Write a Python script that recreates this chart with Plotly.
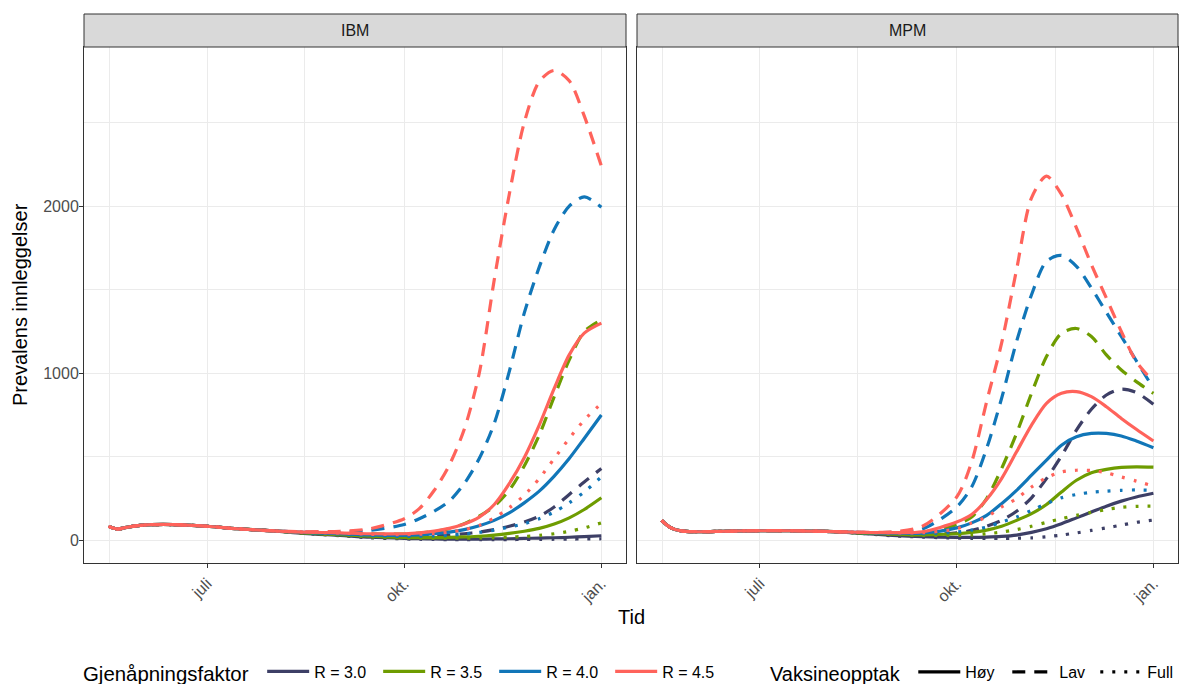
import plotly.graph_objects as go

# ---------------- data ----------------
dates = ["2021-05-16", "2021-05-20", "2021-05-25", "2021-06-01", "2021-06-15",
         "2021-07-01", "2021-07-15", "2021-08-01", "2021-08-15", "2021-09-01",
         "2021-09-15", "2021-10-01", "2021-10-08", "2021-10-15", "2021-10-22",
         "2021-10-29", "2021-11-05", "2021-11-12", "2021-11-19", "2021-11-26",
         "2021-12-03", "2021-12-10", "2021-12-17", "2021-12-24", "2022-01-01"]

models = ["IBM", "MPM"]
r_levels = ["R = 3.0", "R = 3.5", "R = 4.0", "R = 4.5"]
vacc_levels = ["Høy", "Lav", "Full"]

# IBM
ibm_r30_hoy = [84, 68, 80, 92, 95, 85, 70, 57, 42, 30, 19, 12, 10, 9, 8, 8, 8, 9, 10, 12, 14, 16, 19, 23, 28]
ibm_r30_lav = [84, 68, 80, 92, 95, 85, 70, 57, 45, 34, 27, 22, 24, 27, 32, 40, 50, 65, 85, 110, 145, 200, 275, 350, 430]
ibm_r30_full = [84, 68, 80, 92, 95, 85, 70, 57, 42, 28, 16, 9, 7, 6, 5, 5, 5, 5, 5, 6, 6, 7, 8, 9, 10]
ibm_r35_hoy = [84, 68, 80, 92, 95, 85, 70, 57, 45, 34, 25, 18, 17, 17, 18, 21, 25, 32, 42, 55, 72, 98, 135, 185, 255]
ibm_r35_lav = [84, 68, 80, 92, 95, 85, 70, 57, 47, 42, 40, 38, 44, 54, 70, 100, 145, 205, 300, 445, 630, 860, 1080, 1250, 1320]
ibm_r35_full = [84, 68, 80, 92, 95, 85, 70, 57, 45, 32, 21, 14, 13, 13, 13, 14, 15, 17, 20, 24, 30, 40, 55, 75, 105]
ibm_r40_hoy = [84, 68, 80, 92, 95, 85, 70, 57, 48, 40, 33, 30, 33, 40, 50, 65, 88, 120, 165, 225, 295, 385, 490, 610, 750]
ibm_r40_lav = [84, 68, 80, 92, 95, 85, 70, 57, 50, 50, 60, 95, 130, 175, 235, 340, 490, 700, 1010, 1360, 1635, 1860, 2000, 2055, 1994]
ibm_r40_full = [84, 68, 80, 92, 95, 85, 70, 57, 48, 38, 29, 24, 25, 27, 31, 38, 48, 62, 80, 100, 130, 170, 225, 290, 380]
ibm_r45_hoy = [84, 68, 80, 92, 95, 85, 70, 57, 50, 45, 40, 40, 45, 56, 72, 98, 140, 215, 340, 495, 690, 910, 1110, 1240, 1300]
ibm_r45_lav = [84, 68, 80, 92, 95, 85, 70, 57, 52, 55, 70, 130, 190, 300, 450, 665, 1000, 1560, 2070, 2500, 2745, 2812, 2750, 2540, 2240]
ibm_r45_full = [84, 68, 80, 92, 95, 85, 70, 57, 50, 44, 37, 35, 37, 42, 50, 65, 90, 135, 195, 270, 370, 490, 610, 720, 820]

# MPM
mpm_r30_hoy = [120, 78, 57, 52, 55, 58, 58, 54, 44, 30, 22, 18, 18, 20, 24, 32, 48, 70, 100, 135, 170, 205, 235, 260, 282]
mpm_r30_lav = [120, 78, 57, 52, 55, 58, 58, 54, 45, 35, 32, 45, 60, 85, 120, 175, 255, 370, 505, 660, 785, 870, 905, 885, 815]
mpm_r30_full = [120, 78, 57, 52, 55, 58, 58, 54, 44, 28, 20, 14, 12, 12, 12, 13, 15, 22, 32, 45, 60, 75, 92, 108, 122]
mpm_r35_hoy = [120, 78, 57, 52, 55, 58, 58, 54, 46, 38, 33, 40, 48, 62, 85, 120, 160, 215, 290, 360, 405, 425, 437, 440, 438]
mpm_r35_lav = [120, 78, 57, 52, 55, 58, 58, 54, 47, 42, 48, 95, 140, 250, 430, 640, 880, 1100, 1240, 1268, 1220, 1110, 1020, 950, 880]
mpm_r35_full = [120, 78, 57, 52, 55, 58, 58, 54, 46, 36, 30, 30, 33, 40, 50, 65, 85, 108, 130, 150, 168, 185, 198, 204, 205]
mpm_r40_hoy = [120, 78, 57, 52, 55, 58, 58, 54, 48, 44, 44, 75, 105, 150, 220, 300, 390, 480, 570, 620, 640, 640, 625, 595, 555]
mpm_r40_lav = [120, 78, 57, 52, 55, 58, 58, 54, 49, 48, 68, 200, 320, 550, 850, 1190, 1470, 1670, 1705, 1640, 1510, 1365, 1220, 1075, 910]
mpm_r40_full = [120, 78, 57, 52, 55, 58, 58, 54, 48, 42, 40, 50, 62, 80, 110, 140, 180, 220, 255, 275, 288, 295, 300, 302, 300]
mpm_r45_hoy = [120, 78, 57, 52, 55, 58, 58, 54, 49, 47, 52, 110, 155, 245, 370, 530, 690, 820, 880, 890, 860, 800, 730, 665, 595]
mpm_r45_lav = [120, 78, 57, 52, 55, 58, 58, 54, 50, 52, 85, 260, 470, 830, 1180, 1620, 2050, 2180, 2070, 1870, 1650, 1450, 1250, 1070, 950]
mpm_r45_full = [120, 78, 57, 52, 55, 58, 58, 54, 49, 46, 46, 70, 105, 140, 200, 250, 320, 375, 410, 420, 418, 405, 380, 355, 325]

x_tick_vals = ["2021-07-01", "2021-10-01", "2022-01-01"]
x_tick_text = ["juli", "okt.", "jan."]
x_minor_vals = ["2021-05-16 12:00", "2021-08-15 12:00", "2021-11-16"]
y_tick_vals = [0, 1000, 2000]
y_minor_vals = [500, 1500, 2500]

series = {
    ("IBM", "R = 3.0", "Høy"): ibm_r30_hoy, ("IBM", "R = 3.0", "Lav"): ibm_r30_lav, ("IBM", "R = 3.0", "Full"): ibm_r30_full,
    ("IBM", "R = 3.5", "Høy"): ibm_r35_hoy, ("IBM", "R = 3.5", "Lav"): ibm_r35_lav, ("IBM", "R = 3.5", "Full"): ibm_r35_full,
    ("IBM", "R = 4.0", "Høy"): ibm_r40_hoy, ("IBM", "R = 4.0", "Lav"): ibm_r40_lav, ("IBM", "R = 4.0", "Full"): ibm_r40_full,
    ("IBM", "R = 4.5", "Høy"): ibm_r45_hoy, ("IBM", "R = 4.5", "Lav"): ibm_r45_lav, ("IBM", "R = 4.5", "Full"): ibm_r45_full,
    ("MPM", "R = 3.0", "Høy"): mpm_r30_hoy, ("MPM", "R = 3.0", "Lav"): mpm_r30_lav, ("MPM", "R = 3.0", "Full"): mpm_r30_full,
    ("MPM", "R = 3.5", "Høy"): mpm_r35_hoy, ("MPM", "R = 3.5", "Lav"): mpm_r35_lav, ("MPM", "R = 3.5", "Full"): mpm_r35_full,
    ("MPM", "R = 4.0", "Høy"): mpm_r40_hoy, ("MPM", "R = 4.0", "Lav"): mpm_r40_lav, ("MPM", "R = 4.0", "Full"): mpm_r40_full,
    ("MPM", "R = 4.5", "Høy"): mpm_r45_hoy, ("MPM", "R = 4.5", "Lav"): mpm_r45_lav, ("MPM", "R = 4.5", "Full"): mpm_r45_full,
}

# ---------------- styles ----------------
FONT = "Liberation Sans, Arial, Helvetica, sans-serif"
colors = {"R = 3.0": "#3D3F66", "R = 3.5": "#6E9C00", "R = 4.0": "#1176B8", "R = 4.5": "#FF635B"}
dashes = {"Høy": "solid", "Lav": "13px,9px", "Full": "3px,9px"}
vacc_entry_width = {"Høy": 37, "Lav": 31, "Full": 28}
LW = 3.2

W, H = 1182, 684
panel_x = {"IBM": (84, 626), "MPM": (637, 1178)}
panel_top, panel_bot = 47, 563
strip_top = 14


def px_x(v):
    return v / W


def px_y(v):
    return 1 - v / H


fig = go.Figure()
axis_ids = {"IBM": ("x", "y"), "MPM": ("x2", "y2")}

for m in models:
    xa, ya = axis_ids[m]
    for r in r_levels:
        for v in vacc_levels:
            fig.add_trace(go.Scatter(
                x=dates, y=series[(m, r, v)], mode="lines",
                line=dict(color=colors[r], width=LW, dash=dashes[v], shape="spline", smoothing=0.8),
                xaxis=xa, yaxis=ya, showlegend=False, hoverinfo="skip"))

# legend entries
for r in r_levels:
    fig.add_trace(go.Scatter(x=[None], y=[None], mode="lines", name=r,
                             line=dict(color=colors[r], width=LW), legend="legend"))
for v in vacc_levels:
    fig.add_trace(go.Scatter(x=[None], y=[None], mode="lines", name=v,
                             line=dict(color="black", width=LW, dash=dashes[v]), legend="legend2",
                             legendwidth=vacc_entry_width[v]))

x_range = ["2021-05-04 12:00", "2022-01-12 12:00"]
y_range = [-135, 2952]

common_x = dict(
    type="date", range=x_range, tickmode="array", tickvals=x_tick_vals, ticktext=x_tick_text,
    tickangle=-45, ticks="outside", ticklen=4, tickcolor="#333333", tickwidth=1,
    tickfont=dict(family=FONT, size=16, color="#4D4D4D"),
    showgrid=True, gridcolor="#EBEBEB", gridwidth=1.2,
    minor=dict(tickmode="array", tickvals=x_minor_vals, showgrid=True, gridcolor="#EBEBEB", gridwidth=0.6, ticks=""),
    showline=True, linecolor="#333333", linewidth=1, mirror=True, zeroline=False,
)
common_y = dict(
    range=y_range, tickmode="array", tickvals=y_tick_vals,
    showgrid=True, gridcolor="#EBEBEB", gridwidth=1.2,
    minor=dict(tickmode="array", tickvals=y_minor_vals, showgrid=True, gridcolor="#EBEBEB", gridwidth=0.6, ticks=""),
    showline=True, linecolor="#333333", linewidth=1, mirror=True, zeroline=False,
)

fig.update_layout(
    width=W, height=H, margin=dict(l=0, r=0, t=0, b=0, autoexpand=False),
    paper_bgcolor="white", plot_bgcolor="white",
    font=dict(family=FONT, color="black"),
    xaxis=dict(common_x, domain=[px_x(84), px_x(626)], anchor="y"),
    xaxis2=dict(common_x, domain=[px_x(637), px_x(1178)], anchor="y2", matches="x"),
    yaxis=dict(common_y, domain=[px_y(panel_bot), px_y(panel_top)], anchor="x",
               ticks="outside", ticklen=4, tickcolor="#333333", tickwidth=1,
               ticklabelstandoff=-3,
               tickfont=dict(family=FONT, size=16, color="#4D4D4D")),
    yaxis2=dict(common_y, domain=[px_y(panel_bot), px_y(panel_top)], anchor="x2",
                matches="y", showticklabels=False, ticks=""),
    legend=dict(orientation="h", x=px_x(81), y=px_y(673), xanchor="left", yanchor="middle",
                title=dict(text="Gjenåpningsfaktor&nbsp;", side="left",
                           font=dict(family=FONT, size=20.4, color="black")),
                font=dict(family=FONT, size=16, color="black"),
                entrywidth=59, entrywidthmode="pixels", itemwidth=42,
                bgcolor="rgba(0,0,0,0)"),
    legend2=dict(orientation="h", x=px_x(768), y=px_y(673), xanchor="left", yanchor="middle",
                 title=dict(text="Vaksineopptak&nbsp;", side="left",
                            font=dict(family=FONT, size=20, color="black")),
                 font=dict(family=FONT, size=16, color="black"),
                 itemwidth=42, bgcolor="rgba(0,0,0,0)"),
)

shapes = []
annotations = []
for m in models:
    x0, x1 = panel_x[m]
    shapes.append(dict(type="rect", xref="paper", yref="paper",
                       x0=px_x(x0), x1=px_x(x1), y0=px_y(panel_top), y1=px_y(strip_top),
                       fillcolor="#D9D9D9", line=dict(color="#333333", width=1), layer="above"))
    annotations.append(dict(text=m, xref="paper", yref="paper", x=px_x((x0 + x1) / 2),
                            y=px_y((panel_top + strip_top) / 2), showarrow=False,
                            xanchor="center", yanchor="middle",
                            font=dict(family=FONT, size=16, color="#1A1A1A")))

annotations.append(dict(text="Tid", xref="paper", yref="paper", x=px_x(631), y=px_y(617),
                        showarrow=False, xanchor="center", yanchor="middle",
                        font=dict(family=FONT, size=20, color="black")))
annotations.append(dict(text="Prevalens innleggelser", xref="paper", yref="paper", x=px_x(20),
                        y=px_y(305), showarrow=False, textangle=-90, xanchor="center", yanchor="middle",
                        font=dict(family=FONT, size=20, color="black")))

fig.update_layout(shapes=shapes, annotations=annotations)

fig.write_html("out.html")
